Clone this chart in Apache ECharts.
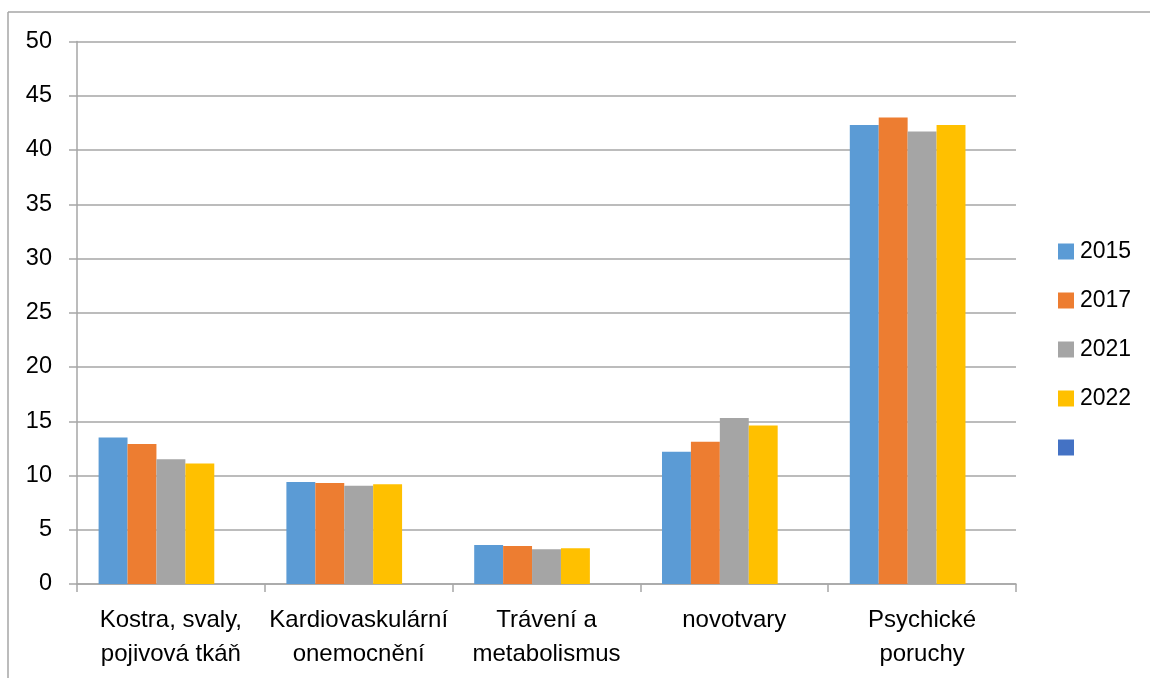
<!DOCTYPE html>
<html>
<head>
<meta charset="utf-8">
<script src="https://cdn.jsdelivr.net/npm/echarts@6/dist/echarts.min.js"></script>
<style>
html,body{margin:0;padding:0;background:#fff;}
#chart{width:1150px;height:678px;}
</style>
</head>
<body>
<div id="chart"></div>
<script>
const categories = ["Kostra, svaly,\npojivová tkáň", "Kardiovaskulární\nonemocnění", "Trávení a\nmetabolismus", "novotvary", "Psychické\nporuchy"];
const seriesNames = ["2015", "2017", "2021", "2022", " "];
const v2015 = [13.5, 9.4, 3.6, 12.2, 42.3];
const v2017 = [12.9, 9.3, 3.5, 13.1, 43.0];
const v2021 = [11.5, 9.05, 3.2, 15.3, 41.7];
const v2022 = [11.1, 9.2, 3.3, 14.6, 42.3];
const vBlank = [null, null, null, null, null];
const colors = ["#5B9BD5", "#ED7D31", "#A5A5A5", "#FFC000", "#4472C4"];

const allValues = [v2015, v2017, v2021, v2022, vBlank];
const FONT = "'Liberation Sans', Arial, sans-serif";

const chart = echarts.init(document.getElementById('chart'), null, {renderer: 'canvas'});
chart.setOption({
  animation: false,
  color: colors,
  textStyle: {fontFamily: FONT},
  graphic: [
    {type: 'line', shape: {x1: 8, y1: 12, x2: 1150, y2: 12}, style: {stroke: '#A6A6A6', lineWidth: 1.5}, silent: true},
    {type: 'line', shape: {x1: 8, y1: 12, x2: 8, y2: 678}, style: {stroke: '#A6A6A6', lineWidth: 1.5}, silent: true}
  ],
  grid: {left: 77, right: 134, top: 41.5, bottom: 94, containLabel: false},
  legend: {
    orient: 'vertical',
    left: 1058,
    top: 240,
    padding: 0,
    icon: 'rect',
    itemWidth: 16,
    itemHeight: 16,
    itemGap: 26,
    data: seriesNames,
    textStyle: {fontSize: 23, color: '#000', fontFamily: FONT, lineHeight: 22, padding: [0, 0, 0, 1]}
  },
  xAxis: {
    type: 'category',
    data: categories,
    axisLine: {show: true, lineStyle: {color: '#A6A6A6', width: 1.5}},
    axisTick: {show: true, length: 8, lineStyle: {color: '#A6A6A6', width: 1.5}},
    axisLabel: {interval: 0, fontSize: 24, color: '#000', lineHeight: 34, margin: 19, fontFamily: FONT}
  },
  yAxis: {
    type: 'value',
    min: 0, max: 50, interval: 5,
    axisLine: {show: true, lineStyle: {color: '#A6A6A6', width: 1.5}},
    axisTick: {show: true, length: 8, lineStyle: {color: '#A6A6A6', width: 1.5}},
    axisLabel: {fontSize: 23.5, color: '#000', margin: 25, fontFamily: FONT},
    splitLine: {show: true, lineStyle: {color: '#A6A6A6', width: 1.5}}
  },
  series: seriesNames.map((n, i) => ({
    name: n,
    type: 'bar',
    data: allValues[i],
    barGap: '0%',
    barCategoryGap: '23%',
    itemStyle: {color: colors[i]}
  }))
});
</script>
</body>
</html>
